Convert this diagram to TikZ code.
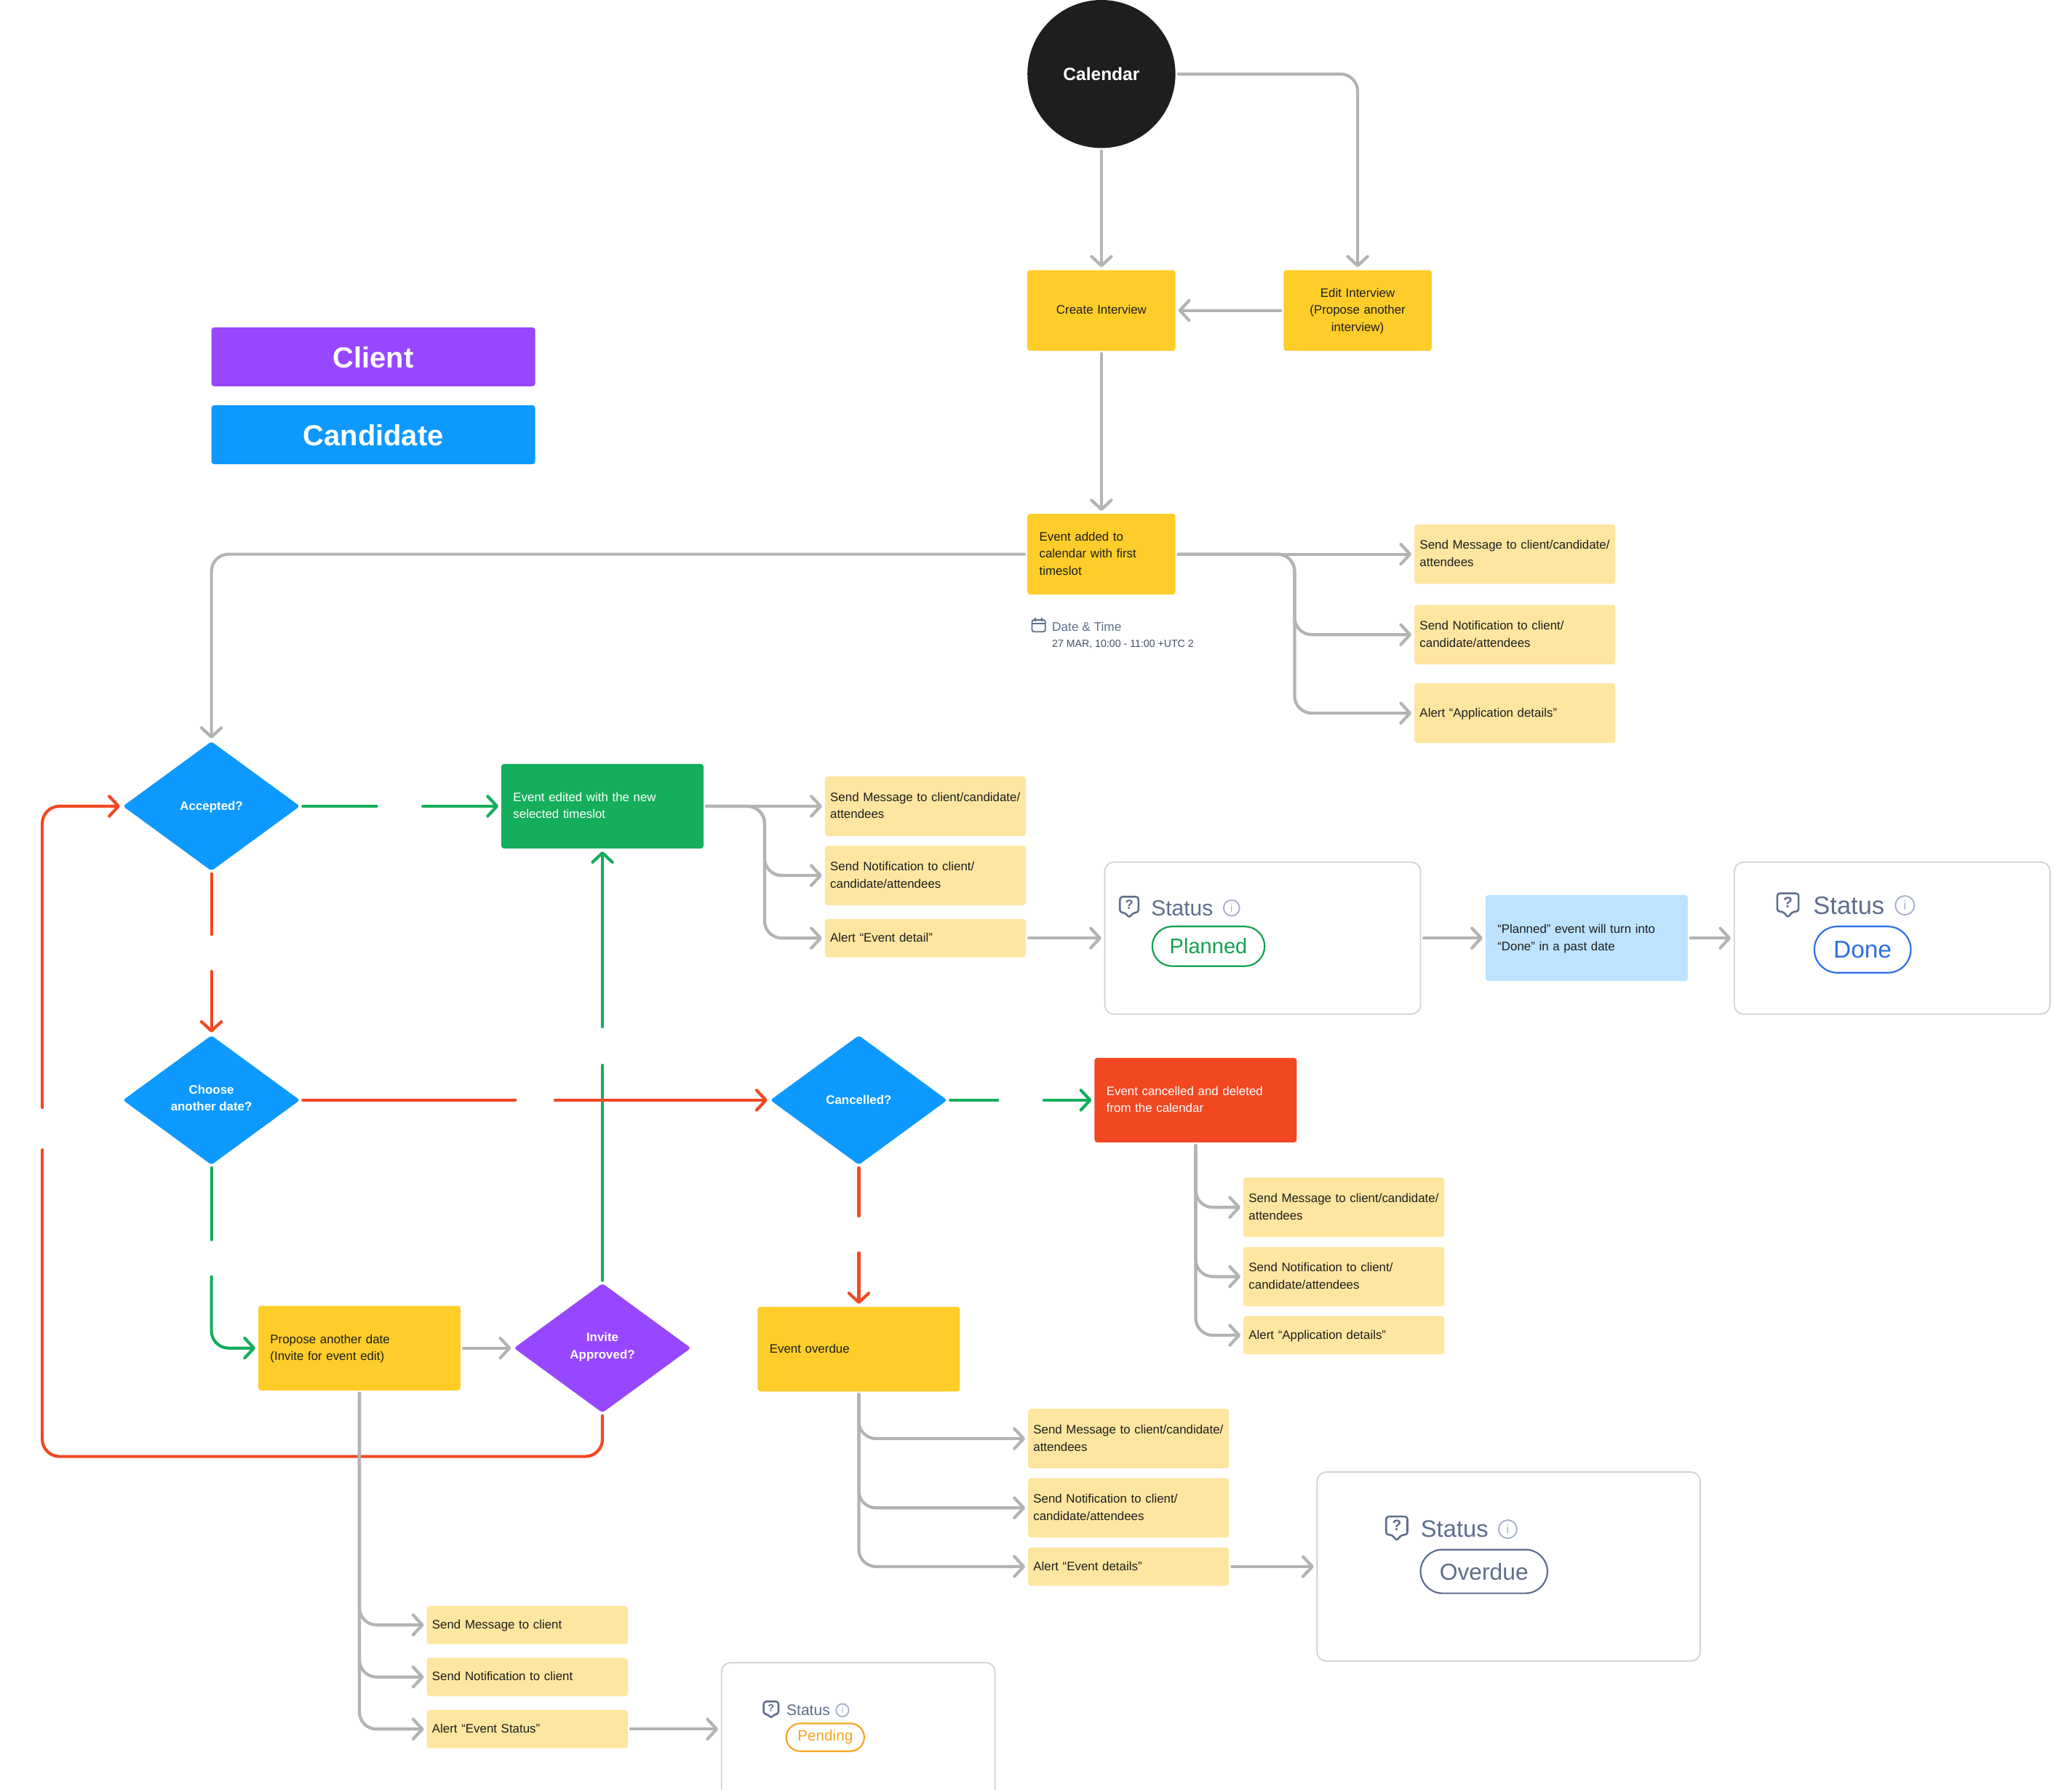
\documentclass[tikz,border=0pt]{standalone}
\usepackage{fontspec}
\setmainfont{Liberation Sans}
\usetikzlibrary{arrows.meta,positioning,shapes.geometric,shapes.misc}
\definecolor{inkblack}{HTML}{1E1E1E}
\definecolor{wiregray}{HTML}{B3B3B3}
\definecolor{cardgray}{HTML}{D2D2D2}
\definecolor{taskyellow}{HTML}{FFCD29}
\definecolor{noteyellow}{HTML}{FFE6A0}
\definecolor{infoblue}{HTML}{BDE3FF}
\definecolor{askblue}{HTML}{0D99FF}
\definecolor{askpurple}{HTML}{9747FF}
\definecolor{okgreen}{HTML}{14AE5C}
\definecolor{badred}{HTML}{F24822}
\definecolor{slate}{HTML}{5E6E8C}
\definecolor{slatelight}{HTML}{A3B0C9}
\definecolor{doneblue}{HTML}{2B6FE8}
\definecolor{plangreen}{HTML}{12A150}
\definecolor{pendorange}{HTML}{F5A623}
\newcommand{\msgtext}{\mbox{Send Message to client/candidate/}\\attendees}
\newcommand{\notetext}{Send Notification to client/\\candidate/attendees}
\newcommand{\linestrut}{\rule[-3.4pt]{0pt}{12.5pt}}
\tikzset{
	wire/.style={draw=#1, line width=2.3pt, line cap=round, shorten <=2pt},
	ar/.style={wire=#1, shorten >=2pt,
		-{Straight Barb[length=7pt,width=15pt,round]}},
	turnwire/.style={rounded corners=13pt},
	box/.style={rectangle, rounded corners=2pt, inner ysep=0pt, align=left,
		execute at begin node=\linestrut, execute at end node=\linestrut,
		font=\fontsize{9.3}{13}\selectfont},
	taskbox/.style={box, fill=taskyellow, text=inkblack, minimum width=112pt,
		minimum height=61pt, text width=94pt, inner xsep=9pt},
	taskwide/.style={taskbox, minimum width=153pt, minimum height=64pt, text width=135pt},
	notebox/.style={box, fill=noteyellow, text=inkblack, minimum width=152pt,
		minimum height=45pt, text width=144pt, inner xsep=4pt},
	noteshort/.style={notebox, minimum height=29pt},
	ask/.style={diamond, fill=#1, text=white, minimum width=134pt, minimum height=98pt,
		inner sep=0pt, rounded corners=2pt, align=center,
		execute at begin node=\linestrut, execute at end node=\linestrut,
		font=\fontsize{9.3}{13}\selectfont\bfseries},
	legend/.style={rectangle, rounded corners=2pt, fill=#1, text=white, minimum width=245pt,
		minimum height=44.5pt, text height=17pt, font=\fontsize{22}{26}\selectfont\bfseries},
	card/.style={rectangle, draw=cardgray, line width=1pt, fill=white, rounded corners=7pt},
	statuslabel/.style={anchor=west, inner sep=0pt, text=slate,
		font=\fontsize{#1}{#1}\selectfont},
	statuspill/.style={rounded rectangle, draw=#1, text=#1, line width=1.2pt, inner sep=0pt},
	statusicon/.pic={
		\draw[slate, line width=1.4pt, rounded corners=2pt, line join=round]
			(-7,-7) -- (7,-7) -- (7,5) -- (3,5) -- (0,9) -- (-3,5) -- (-7,5) -- cycle;
		\node[text=slate, inner sep=0pt, transform shape,
			font=\fontsize{10}{10}\selectfont\bfseries] (-q) at (0,-1) {?};
	},
	infoicon/.pic={
		\draw[slatelight, line width=1pt] (0,0) circle (6);
		\node[text=slatelight, inner sep=0pt, transform shape,
			font=\fontsize{8}{8}\selectfont] (-i) at (0,0) {i};
	}
}

\begin{document}
\begin{tikzpicture}[x=1pt, y=-1pt]
	\clip (0,0) rectangle (1568,1354);
	% top of the flow
	\node[circle, fill=inkblack, text=white, minimum size=112pt, inner sep=0pt,
		font=\fontsize{13.5}{16}\selectfont\bfseries] (calendar) at (833.5,56) {Calendar};
	\node[taskbox, below=92pt of calendar, align=center] (create) {Create Interview};
	\node[taskbox, right=81.5pt of create, align=center] (edit) {Edit Interview\\(Propose another\\interview)};
	\node[taskbox, below=123pt of create] (added) {Event added to\\calendar with first\\timeslot};
	\node[legend=askpurple] (client) at (282.5,270) {Client};
	\node[legend=askblue, below=14pt of client] (candidate) {Candidate};
	\node[notebox, right=180.5pt of added] (msgA) {\msgtext};
	\node[notebox, below=15.5pt of msgA] (noteA) {\notetext};
	\node[notebox, below=14pt of noteA] (alertA) {Alert “Application details”};
	% date line under the first event
	\draw[slate, line width=1pt, rounded corners=1.5pt] (781,469) rectangle (791,478);
	\draw[slate, line width=1pt] (781,472) -- (791,472) (783.5,467.5) -- (783.5,470) (788.5,467.5) -- (788.5,470);
	\node[anchor=west, inner sep=0pt, text=slate, font=\fontsize{9.5}{12}\selectfont] (datehead) at (796,474) {Date \& Time};
	\node[anchor=west, inner sep=0pt, text=slate!70!black, font=\fontsize{7.8}{10}\selectfont] (dateval) at (796,487.5) {27 MAR, 10:00 - 11:00 +UTC 2};
	% decisions and their boxes
	\node[ask=askblue] (accepted) at (160,610) {Accepted?};
	\node[ask=askblue, below=124pt of accepted] (choose) {Choose\\another date?};
	\node[taskwide, fill=okgreen, text=white, right=152pt of accepted] (edited) {Event edited with the new\\selected timeslot};
	\node[notebox, right=91.5pt of edited] (msgB) {\msgtext};
	\node[notebox, below=7pt of msgB] (noteB) {\notetext};
	\node[noteshort, below=10pt of noteB] (alertB) {Alert “Event detail”};
	\node[card, minimum width=239pt, minimum height=115pt, right=59pt of alertB] (planned) {};
	\node[taskwide, fill=infoblue, minimum height=65pt, right=48.5pt of planned] (turn) {“Planned” event will turn into\\“Done” in a past date};
	\node[card, minimum width=239pt, minimum height=115pt, right=34.5pt of turn] (done) {};
	\node[ask=askblue, right=355.5pt of choose] (cancelled) {Cancelled?};
	\node[taskwide, fill=badred, text=white, right=111pt of cancelled] (cancelbox) {Event cancelled and deleted\\from the calendar};
	\node[notebox] (msgC) at (1017,913.5) {\msgtext};
	\node[notebox, below=7pt of msgC] (noteC) {\notetext};
	\node[noteshort, below=7pt of noteC] (alertC) {Alert “Application details”};
	\node[taskwide, below=107pt of cancelled] (overdue) {Event overdue};
	\node[notebox] (msgD) at (854,1088.5) {\msgtext};
	\node[notebox, below=7pt of msgD] (noteD) {\notetext};
	\node[noteshort, below=7pt of noteD] (alertD) {Alert “Event details”};
	\node[card, minimum width=290pt, minimum height=143pt, right=66pt of alertD] (late) {};
	\node[taskwide] (propose) at (272,1020) {Propose another date\\(Invite for event edit)};
	\node[ask=askpurple, right=40pt of propose] (invite) {Invite\\Approved?};
	\node[noteshort] (msgE) at (399,1229.5) {Send Message to client};
	\node[noteshort, below=10pt of msgE] (noteE) {Send Notification to client};
	\node[noteshort, below=10pt of noteE] (alertE) {Alert “Event Status”};
	\node[card, minimum width=207pt, minimum height=130pt] (pending) at (649.5,1323) {};
	% status rows
	\pic (iconA) at (854.5,685.5) {statusicon};
	\node[statuslabel=16.5] (statusA) at (871,687) {Status};
	\pic (infoA) at (932,687) {infoicon};
	\node[statuspill=plangreen, minimum width=85pt, minimum height=30pt,
		font=\fontsize{16}{16}\selectfont] (pillA) at (914.5,716) {Planned};
	\pic[scale=1.15] (iconB) at (1353,684) {statusicon};
	\node[statuslabel=19] (statusB) at (1372,685) {Status};
	\pic[scale=1.2] (infoB) at (1441.5,685) {infoicon};
	\node[statuspill=doneblue, minimum width=73pt, minimum height=35pt,
		font=\fontsize{18.4}{18}\selectfont] (pillB) at (1409.5,718.5) {Done};
	\pic[scale=1.15] (iconC) at (1057,1155.5) {statusicon};
	\node[statuslabel=18] (statusC) at (1075,1157) {Status};
	\pic[scale=1.15] (infoC) at (1141,1157) {infoicon};
	\node[statuspill=slate, minimum width=96pt, minimum height=33pt,
		font=\fontsize{17.5}{18}\selectfont] (pillC) at (1123,1189) {Overdue};
	\pic[scale=.8] (iconD) at (583.5,1293) {statusicon};
	\node[statuslabel=11.6] (statusD) at (595,1294) {Status};
	\pic[scale=.8] (infoD) at (637.5,1294) {infoicon};
	\node[statuspill=pendorange, minimum width=59pt, minimum height=21pt,
		font=\fontsize{11.4}{12}\selectfont] (pillD) at (624.5,1314.5) {Pending};
	% breaks in the coloured lines
	\coordinate (yesAa) at (accepted.east -| 285,0);
	\coordinate (yesAb) at (accepted.east -| 318,0);
	\coordinate (noAa) at (accepted.south |- 0,707);
	\coordinate (noAb) at (accepted.south |- 0,733);
	\coordinate (yesBa) at (choose.south |- 0,938);
	\coordinate (yesBb) at (choose.south |- 0,964);
	\coordinate (noBa) at (choose.east -| 390,0);
	\coordinate (noBb) at (choose.east -| 418,0);
	\coordinate (upA) at (invite.north |- 0,806);
	\coordinate (upB) at (invite.north |- 0,779);
	\coordinate (yesCa) at (cancelled.east -| 755,0);
	\coordinate (yesCb) at (cancelled.east -| 788,0);
	\coordinate (noCa) at (cancelled.south |- 0,920);
	\coordinate (noCb) at (cancelled.south |- 0,946);
	\coordinate (loopA) at (32,1102);
	\coordinate (loopB) at (32,870);
	\coordinate (loopC) at (32,840);
	\coordinate (busA) at ([xshift=90pt]added.east);
	\coordinate (busB) at ([xshift=46pt]edited.east);
	% green
	\draw[wire=okgreen] (accepted.east) -- (yesAa);
	\draw[ar=okgreen] (yesAb) -- (edited);
	\draw[wire=okgreen] (choose.south) -- (yesBa);
	\draw[ar=okgreen, turnwire] (yesBb) |- (propose.west);
	\draw[wire=okgreen] (invite.north) -- (upA);
	\draw[ar=okgreen] (upB) -- (edited.south);
	\draw[wire=okgreen] (cancelled.east) -- (yesCa);
	\draw[ar=okgreen] (yesCb) -- (cancelbox);
	% red
	\draw[wire=badred] (accepted.south) -- (noAa);
	\draw[ar=badred] (noAb) -- (choose.north);
	\draw[wire=badred] (choose.east) -- (noBa);
	\draw[ar=badred] (noBb) -- (cancelled.west);
	\draw[wire=badred] (cancelled.south) -- (noCa);
	\draw[ar=badred] (noCb) -- (overdue.north);
	\draw[wire=badred, turnwire] (invite.south) |- (loopA) -- (loopB);
	\draw[ar=badred, turnwire] (loopC) |- (accepted.west);
	% gray
	\draw[ar=wiregray] (calendar) -- (create);
	\draw[ar=wiregray, turnwire] (calendar) -| (edit);
	\draw[ar=wiregray] (edit) -- (create);
	\draw[ar=wiregray] (create) -- (added);
	\draw[ar=wiregray, turnwire] (added) -| (accepted.north);
	\draw[ar=wiregray] (added) -- (msgA);
	\draw[ar=wiregray, turnwire] (added.east) -- (busA) |- (noteA.west);
	\draw[ar=wiregray, turnwire] (added.east) -- (busA) |- (alertA.west);
	\draw[ar=wiregray] (edited) -- (msgB);
	\draw[ar=wiregray, turnwire] (edited.east) -- (busB) |- (noteB.west);
	\draw[ar=wiregray, turnwire] (edited.east) -- (busB) |- (alertB.west);
	\draw[ar=wiregray] (alertB) -- (planned);
	\draw[ar=wiregray] (planned) -- (turn);
	\draw[ar=wiregray] (turn) -- (done);
	\draw[ar=wiregray, turnwire] (cancelbox.south) |- (msgC.west);
	\draw[ar=wiregray, turnwire] (cancelbox.south) |- (noteC.west);
	\draw[ar=wiregray, turnwire] (cancelbox.south) |- (alertC.west);
	\draw[ar=wiregray, turnwire] (overdue.south) |- (msgD.west);
	\draw[ar=wiregray, turnwire] (overdue.south) |- (noteD.west);
	\draw[ar=wiregray, turnwire] (overdue.south) |- (alertD.west);
	\draw[ar=wiregray] (alertD) -- (late);
	\draw[ar=wiregray] (propose) -- (invite);
	\draw[ar=wiregray, turnwire] (propose.south) |- (msgE.west);
	\draw[ar=wiregray, turnwire] (propose.south) |- (noteE.west);
	\draw[ar=wiregray, turnwire] (propose.south) |- (alertE.west);
	\draw[ar=wiregray] (alertE.east) -- (alertE -| pending.west);
\end{tikzpicture}
\end{document}
